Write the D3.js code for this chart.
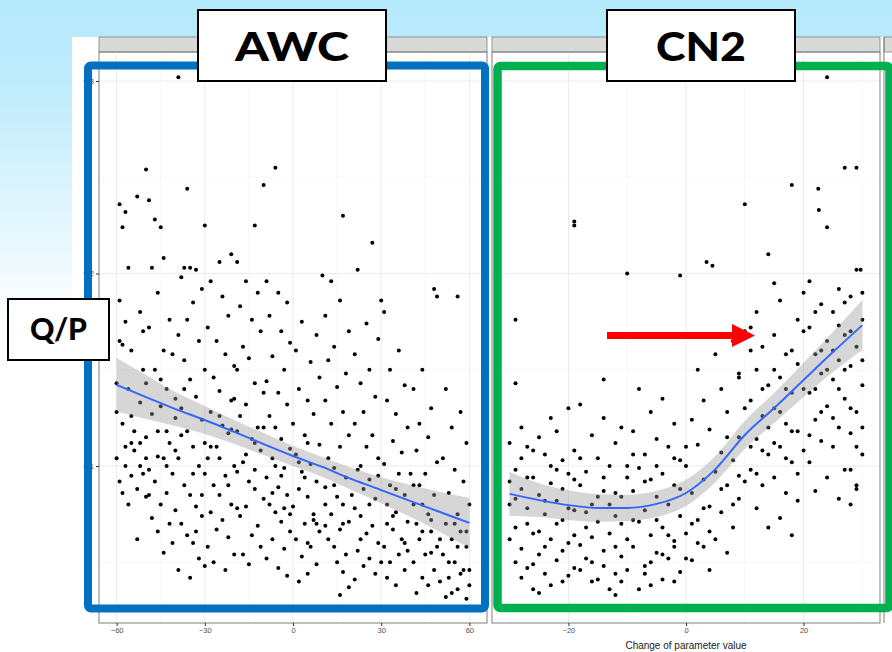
<!DOCTYPE html>
<html>
<head>
<meta charset="utf-8">
<script src="https://cdn.jsdelivr.net/npm/d3@7"></script>
<style>
  html, body { margin: 0; padding: 0; background: #fff; }
  svg { display: block; }
</style>
</head>
<body>
<svg id="chart" width="892" height="652"></svg>
<script>
// ---- Data -------------------------------------------------------------
const facetNames = ["AWC", "CN2"];
const xTicksAWC = [-60, -30, 0, 30, 60];
const xTicksCN2 = [-20, 0, 20];
const yTicks = [0.1, 0.2, 0.3];
const yTickLabels = ["0.1", "0.2", "0.3"];
const axisTitle = "Change of parameter value";
const sideLabel = "Q/P";

// Sensitivity runs: [change of AWC (%), Q/P]
const awcPts = [
  [-59,0.236],[-58,0.224],[-57,0.232],[-53,0.240],[-59,0.186],[-59,0.165],[-58,0.163],[-56,0.203],
  [-57,0.175],[-52,0.180],[-55,0.160],[-51,0.150],[-56,0.140],[-60,0.128],[-58,0.122],[-54,0.118],
  [-52,0.112],[-60,0.104],[-57,0.100],[-55,0.095],[-59,0.092],[-53,0.088],[-50,0.084],[-56,0.080],
  [-51,0.096],[-54,0.108],[-50,0.115],[-52,0.133],[-50,0.143],[-53,0.062],[-51,0.170],[-55,0.112],
  [-58,0.086],[-50,0.104],[-60,0.143],
  [-50,0.254],[-49,0.238],[-47,0.228],[-45,0.224],[-44,0.208],[-48,0.203],[-46,0.190],[-42,0.176],
  [-49,0.172],[-44,0.160],[-47,0.150],[-41,0.158],[-43,0.140],[-45,0.131],[-48,0.127],[-40,0.125],
  [-46,0.118],[-42,0.112],[-44,0.104],[-49,0.098],[-41,0.096],[-47,0.092],[-43,0.086],[-45,0.080],
  [-40,0.077],[-48,0.073],[-42,0.070],[-46,0.066],[-41,0.060],[-44,0.055],[-39,0.046],[-43,0.100],
  [-40,0.108],
  [-39,0.302],[-36,0.244],[-37,0.203],[-35,0.203],[-33,0.202],[-38,0.198],[-31,0.192],[-34,0.185],
  [-36,0.176],[-39,0.168],[-32,0.165],[-37,0.155],[-30,0.150],[-35,0.145],[-33,0.136],[-38,0.130],
  [-31,0.124],[-36,0.118],[-34,0.110],[-39,0.104],[-32,0.100],[-30,0.096],[-37,0.090],[-35,0.085],
  [-33,0.079],[-31,0.074],[-38,0.070],[-36,0.064],[-34,0.060],[-32,0.052],[-30,0.048],[-35,0.042],
  [-33,0.066],[-30,0.112],[-38,0.116],
  [-30,0.225],[-25,0.206],[-21,0.210],[-28,0.196],[-24,0.188],[-22,0.178],[-29,0.172],[-26,0.165],
  [-23,0.158],[-20,0.152],[-27,0.146],[-25,0.139],[-21,0.134],[-28,0.128],[-24,0.121],[-22,0.117],
  [-26,0.110],[-29,0.104],[-20,0.100],[-23,0.095],[-27,0.090],[-25,0.085],[-21,0.080],[-28,0.076],
  [-24,0.072],[-26,0.067],[-22,0.063],[-29,0.058],[-20,0.054],[-27,0.050],[-23,0.046],[-25,0.104],
  [-21,0.119],
  [-19,0.206],[-13,0.225],[-10,0.246],[-16,0.196],[-12,0.190],[-18,0.183],[-14,0.176],[-11,0.170],
  [-17,0.162],[-15,0.156],[-19,0.150],[-13,0.143],[-10,0.138],[-16,0.132],[-18,0.126],[-12,0.120],
  [-14,0.114],[-11,0.108],[-17,0.102],[-19,0.097],[-15,0.092],[-13,0.088],[-10,0.083],[-16,0.079],
  [-18,0.074],[-12,0.069],[-14,0.064],[-11,0.058],[-17,0.054],[-15,0.049],[-13,0.112],[-19,0.118],
  [-6,0.255],[-9,0.196],[-5,0.190],[-2,0.185],[-8,0.178],[-4,0.170],[-1,0.164],[-7,0.157],
  [-3,0.150],[-9,0.144],[-5,0.138],[-2,0.132],[-8,0.126],[-6,0.120],[-4,0.114],[-1,0.109],
  [-7,0.104],[-3,0.099],[-9,0.094],[-5,0.089],[-2,0.085],[-8,0.080],[-6,0.076],[-4,0.071],
  [-1,0.066],[-7,0.062],[-3,0.057],[-9,0.052],[-5,0.047],[-2,0.043],[-6,0.100],[-3,0.078],
  [3,0.175],[8,0.168],[1,0.160],[6,0.154],[9,0.146],[2,0.140],[5,0.134],[7,0.127],
  [0,0.122],[4,0.116],[9,0.111],[1,0.106],[6,0.101],[3,0.097],[8,0.092],[2,0.088],
  [5,0.084],[0,0.079],[7,0.075],[4,0.070],[9,0.066],[1,0.062],[6,0.058],[3,0.053],
  [8,0.049],[5,0.044],[2,0.040],[7,0.072],[4,0.094],[10,0.199],
  [17,0.230],[13,0.196],[16,0.186],[11,0.178],[19,0.170],[14,0.162],[12,0.155],[18,0.148],
  [15,0.141],[11,0.134],[17,0.128],[13,0.122],[19,0.116],[16,0.110],[12,0.104],[14,0.099],
  [18,0.094],[11,0.089],[15,0.084],[17,0.080],[13,0.075],[19,0.071],[16,0.067],[12,0.062],
  [14,0.058],[18,0.054],[15,0.050],[17,0.045],[19,0.037],[16,0.033],[11,0.069],
  [22,0.202],[27,0.216],[25,0.174],[29,0.166],[21,0.158],[26,0.150],[23,0.143],[28,0.136],
  [24,0.128],[21,0.122],[27,0.116],[25,0.110],[29,0.104],[22,0.098],[26,0.093],[24,0.088],
  [28,0.083],[21,0.078],[23,0.074],[27,0.069],[25,0.065],[29,0.060],[22,0.056],[26,0.052],
  [24,0.048],[28,0.044],[21,0.041],[23,0.062],[30,0.186],
  [31,0.180],[36,0.160],[33,0.150],[38,0.142],[32,0.134],[35,0.127],[39,0.120],[34,0.113],
  [37,0.107],[31,0.101],[36,0.096],[33,0.090],[38,0.085],[32,0.080],[35,0.076],[39,0.071],
  [34,0.067],[37,0.062],[31,0.058],[36,0.054],[33,0.050],[38,0.046],[32,0.042],[35,0.038],
  [39,0.056],[34,0.074],[40,0.096],
  [48,0.192],[49,0.188],[44,0.150],[41,0.140],[47,0.130],[43,0.122],[46,0.115],[42,0.108],
  [49,0.102],[45,0.096],[41,0.090],[48,0.085],[44,0.080],[46,0.075],[42,0.070],[47,0.066],
  [43,0.062],[49,0.058],[45,0.054],[41,0.050],[48,0.046],[44,0.042],[46,0.038],[42,0.034],
  [47,0.072],[43,0.090],
  [56,0.188],[52,0.140],[57,0.128],[54,0.120],[59,0.112],[51,0.104],[55,0.098],[58,0.092],
  [53,0.086],[60,0.080],[56,0.075],[52,0.070],[57,0.066],[54,0.062],[59,0.058],[51,0.054],
  [55,0.050],[58,0.046],[53,0.042],[60,0.038],[56,0.036],[52,0.032],[57,0.044],[59,0.031],
  [54,0.034],[60,0.046],[55,0.070],
  [-57,0.110],[-55,0.126],[-52,0.100],[-49,0.085],[-46,0.105],[-43,0.118],[-40,0.135],[-37,0.140],
  [-34,0.096],[-31,0.085],[-28,0.110],[-25,0.126],[-22,0.090],[-19,0.078],[-16,0.106],[-13,0.098],
  [-10,0.120],[-7,0.086],[-4,0.095],[-1,0.075],[2,0.102],[5,0.112],[8,0.070],[11,0.080],
  [14,0.090],[17,0.070],[20,0.085],[23,0.100],[26,0.080],[29,0.095],[32,0.070],[35,0.088],
  [38,0.060],[41,0.080],[44,0.066],[47,0.055],[50,0.062],[53,0.050],[56,0.058],[59,0.066],
  [-45,0.145],[-20,0.135],[5,0.060],[30,0.050],[50,0.040]
];

// Sensitivity runs: [change of CN2, Q/P]
const cn2Pts = [
  [-29,0.176],[-29,0.143],[-19,0.227],[-19,0.225],[-28,0.120],[-25,0.115],[-22,0.118],[-27,0.110],
  [-24,0.106],[-21,0.103],[-29,0.098],[-26,0.094],[-23,0.091],[-20,0.096],[-28,0.088],[-25,0.085],
  [-22,0.082],[-27,0.078],[-24,0.075],[-21,0.072],[-29,0.068],[-26,0.065],[-23,0.062],[-20,0.060],
  [-28,0.057],[-25,0.054],[-22,0.051],[-27,0.047],[-24,0.044],[-21,0.040],[-26,0.036],[-20,0.130],
  [-23,0.125],[-30,0.080],[-30,0.062],[-29,0.050],
  [-18,0.132],[-14,0.125],[-11,0.120],[-16,0.116],[-12,0.112],[-19,0.108],[-15,0.104],[-13,0.100],
  [-17,0.097],[-10,0.094],[-18,0.090],[-14,0.087],[-11,0.084],[-16,0.080],[-19,0.077],[-12,0.074],
  [-15,0.071],[-17,0.068],[-13,0.065],[-10,0.062],[-18,0.059],[-14,0.056],[-11,0.053],[-16,0.050],
  [-19,0.047],[-12,0.044],[-15,0.041],[-13,0.036],[-17,0.052],[-10,0.100],[-10,0.200],[-12,0.033],
  [-14,0.145],
  [-1,0.199],[-8,0.140],[-4,0.135],[-6,0.128],[-2,0.122],[-9,0.118],[-5,0.114],[-3,0.110],
  [-7,0.106],[-1,0.103],[-8,0.099],[-4,0.096],[-6,0.093],[-2,0.090],[-9,0.087],[-5,0.084],
  [-3,0.080],[-7,0.077],[-1,0.074],[-8,0.071],[-4,0.068],[-6,0.064],[-2,0.061],[-9,0.058],
  [-5,0.055],[-3,0.052],[-7,0.048],[-1,0.045],[-4,0.041],[-6,0.038],[-2,0.058],[0,0.110],
  [3.5,0.206],[4.5,0.204],[10,0.236],[8,0.165],[5,0.158],[2,0.150],[9,0.146],[6,0.140],
  [3,0.134],[7,0.128],[1,0.124],[4,0.119],[9,0.115],[2,0.111],[6,0.107],[8,0.103],
  [0,0.100],[5,0.097],[3,0.093],[7,0.090],[1,0.086],[9,0.083],[4,0.079],[6,0.076],
  [2,0.072],[8,0.068],[0,0.065],[5,0.062],[3,0.058],[7,0.055],[1,0.051],[9,0.148],
  [10,0.170],[4,0.046],
  [14,0.210],[18,0.246],[12,0.180],[16,0.186],[19,0.176],[11,0.172],[15,0.168],[13,0.162],
  [17,0.158],[19,0.153],[12,0.150],[16,0.146],[14,0.142],[18,0.138],[11,0.134],[15,0.130],
  [13,0.126],[17,0.122],[19,0.118],[12,0.114],[16,0.110],[14,0.106],[18,0.102],[11,0.098],
  [15,0.094],[13,0.090],[17,0.086],[19,0.082],[12,0.078],[16,0.073],[14,0.068],[18,0.064],
  [11,0.160],[20,0.190],[15,0.195],[17,0.140],
  [24,0.302],[27,0.255],[29,0.255],[22.5,0.244],[22.6,0.233],[24,0.224],[29,0.202],[29.7,0.202],
  [21,0.196],[26,0.192],[28,0.188],[23,0.184],[25,0.180],[30,0.176],[21,0.172],[27,0.168],
  [24,0.165],[29,0.162],[22,0.158],[26,0.155],[28,0.152],[23,0.148],[25,0.145],[30,0.142],
  [21,0.138],[27,0.135],[24,0.131],[29,0.128],[22,0.124],[26,0.120],[28,0.117],[23,0.113],
  [25,0.110],[30,0.106],[21,0.102],[27,0.098],[24,0.094],[29,0.090],[22,0.087],[26,0.083],
  [28,0.080],[25,0.125],[29,0.110],[28,0.098],[26,0.173],[30,0.155],[20,0.140],[23,0.160],
  [29,0.088],[27,0.185],
  [-28,0.104],[-26,0.108],[-23,0.100],[-21,0.088],[-29,0.083],[-27,0.070],[-25,0.066],[-22,0.070],
  [-20,0.078],[-24,0.058],[-26,0.049],[-28,0.042],[-23,0.038],[-21,0.056],[-19,0.064],[-17,0.076],
  [-15,0.084],[-13,0.080],[-11,0.070],[-18,0.046],[-16,0.040],[-14,0.048],[-12,0.058],[-10,0.046],
  [-9,0.072],[-7,0.092],[-5,0.100],[-3,0.064],[-1,0.088],[-8,0.036],[-6,0.050],[-4,0.054],
  [-2,0.040],[0,0.052],[1,0.070],[2,0.060],[3,0.078],[4,0.066],[-30,0.092],[-30,0.112],
  [-27,0.094],[-19,0.093],[-16,0.063],[-12,0.086],[-9,0.106],[-5,0.072],[-2,0.104],[-14,0.094],
  [-24,0.082],[-22,0.098],[-18,0.104],[-11,0.040],[-7,0.044],[-25,0.034],[-20,0.043],
  [6,0.088],[8,0.080],[10,0.092],[11,0.110],[12,0.096],[13,0.108],[14,0.120],[16,0.128],
  [18,0.118],[20,0.108],[21,0.116],[22,0.140],[23,0.128],[24,0.150],[25,0.160],[26,0.140],
  [27,0.150],[28,0.170],[30,0.120],[19,0.096],[17,0.104],[15,0.112],[20,0.170],[22,0.180],
  [18,0.160],[10,0.130],[7,0.115],[9,0.095],[28,0.130],[30,0.190],[15,0.150],[13,0.140]
];

// Smoothed trend (loess) with 95% band: x, fit, lower, upper
const awcSmoothX  = [-60, -50, -40, -30, -20, -10, 0, 10, 20, 30, 40, 50, 60];
const awcSmoothY  = [0.1421, 0.1358, 0.1296, 0.1239, 0.1177, 0.1114, 0.1052, 0.0995, 0.0932, 0.0875, 0.0818, 0.0761, 0.0704];
const awcSmoothLo = [0.1283, 0.1244, 0.1208, 0.1166, 0.1114, 0.1057, 0.1000, 0.0943, 0.0875, 0.0807, 0.0735, 0.0657, 0.0574];
const awcSmoothHi = [0.1561, 0.1473, 0.1384, 0.1312, 0.1239, 0.1171, 0.1104, 0.1047, 0.0990, 0.0942, 0.0901, 0.0865, 0.0834];

const cn2SmoothX  = [-30, -25, -20, -15, -10, -5, 0, 5, 10, 15, 20, 25, 30];
const cn2SmoothY  = [0.0855, 0.0823, 0.0797, 0.0782, 0.0782, 0.0803, 0.0860, 0.0984, 0.1161, 0.1301, 0.1447, 0.1592, 0.1732];
const cn2SmoothLo = [0.0741, 0.0735, 0.0720, 0.0710, 0.0714, 0.0735, 0.0792, 0.0916, 0.1088, 0.1223, 0.1358, 0.1488, 0.1602];
const cn2SmoothHi = [0.0969, 0.0911, 0.0874, 0.0854, 0.0850, 0.0871, 0.0928, 0.1052, 0.1234, 0.1379, 0.1536, 0.1696, 0.1862];

// ---- Layout -------------------------------------------------------------
const W = 892, H = 652;
const svg = d3.select("#chart");
const defs = svg.append("defs");

const bg = defs.append("linearGradient").attr("id", "slideBg")
  .attr("x1", 0).attr("y1", 0).attr("x2", 0).attr("y2", 1);
bg.append("stop").attr("offset", 0).attr("stop-color", "#b5e9fc");
bg.append("stop").attr("offset", 0.12).attr("stop-color", "#bdebfc");
bg.append("stop").attr("offset", 0.5).attr("stop-color", "#ffffff");
svg.append("rect").attr("width", W).attr("height", H).attr("fill", "url(#slideBg)");

// white plot canvas
const canvasX = 72, canvasY = 37;
svg.append("rect").attr("x", canvasX).attr("y", canvasY)
  .attr("width", W - canvasX).attr("height", H - canvasY).attr("fill", "#fff");

const stripTop = 37, panelTop = 52, panelBottom = 623;
const panels = [
  { name: facetNames[0], x0: 99,  x1: 487, dom: [-66, 66], ticks: xTicksAWC, minor: [-45, -15, 15, 45],
    pts: awcPts, sx: awcSmoothX, sy: awcSmoothY, lo: awcSmoothLo, hi: awcSmoothHi },
  { name: facetNames[1], x0: 492, x1: 880, dom: [-33, 33], ticks: xTicksCN2, minor: [-30, -10, 10, 30],
    pts: cn2Pts, sx: cn2SmoothX, sy: cn2SmoothY, lo: cn2SmoothLo, hi: cn2SmoothHi }
];

const y = d3.scaleLinear()
  .domain([0.1 - (panelBottom - 466) / 1925, 0.3 + (81 - panelTop) / 1925])
  .range([panelBottom, panelTop]);
const yMinor = [0.05, 0.15, 0.25];

panels.forEach((p, i) => {
  const x = d3.scaleLinear().domain(p.dom).range([p.x0, p.x1]);
  const g = svg.append("g");

  // strip
  g.append("rect").attr("x", p.x0).attr("y", stripTop)
    .attr("width", p.x1 - p.x0).attr("height", panelTop - stripTop)
    .attr("fill", "#d9d9d9").attr("stroke", "#7f7f7f").attr("stroke-width", 0.8);

  // grid
  g.selectAll(".ymin").data(yMinor).join("line")
    .attr("x1", p.x0).attr("x2", p.x1).attr("y1", d => y(d)).attr("y2", d => y(d))
    .attr("stroke", "#f4f4f4").attr("stroke-width", 0.6);
  g.selectAll(".xmin").data(p.minor).join("line")
    .attr("y1", panelTop).attr("y2", panelBottom).attr("x1", d => x(d)).attr("x2", d => x(d))
    .attr("stroke", "#f4f4f4").attr("stroke-width", 0.6);
  g.selectAll(".ymaj").data(yTicks).join("line")
    .attr("x1", p.x0).attr("x2", p.x1).attr("y1", d => y(d)).attr("y2", d => y(d))
    .attr("stroke", "#ebebeb").attr("stroke-width", 1);
  g.selectAll(".xmaj").data(p.ticks).join("line")
    .attr("y1", panelTop).attr("y2", panelBottom).attr("x1", d => x(d)).attr("x2", d => x(d))
    .attr("stroke", "#ebebeb").attr("stroke-width", 1);

  // points
  g.selectAll(".pt").data(p.pts).join("circle")
    .attr("cx", d => x(d[0])).attr("cy", d => y(d[1])).attr("r", 2).attr("fill", "#000");

  // confidence band and smooth line
  const idx = d3.range(p.sx.length);
  g.append("path").datum(idx)
    .attr("d", d3.area().curve(d3.curveMonotoneX)
      .x(j => x(p.sx[j])).y0(j => y(p.lo[j])).y1(j => y(p.hi[j])))
    .attr("fill", "#999999").attr("fill-opacity", 0.4);
  g.append("path").datum(idx)
    .attr("d", d3.line().curve(d3.curveMonotoneX).x(j => x(p.sx[j])).y(j => y(p.sy[j])))
    .attr("fill", "none").attr("stroke", "#3366ff").attr("stroke-width", 1.9);

  // panel border
  g.append("rect").attr("x", p.x0).attr("y", panelTop)
    .attr("width", p.x1 - p.x0).attr("height", panelBottom - panelTop)
    .attr("fill", "none").attr("stroke", "#7f7f7f").attr("stroke-width", 1);

  // x axis
  const ax = svg.append("g").attr("transform", `translate(0,${panelBottom})`)
    .call(d3.axisBottom(x).tickValues(p.ticks).tickSize(3).tickPadding(2).tickFormat(d3.format("d")));
  ax.select(".domain").remove();
  ax.selectAll("line").attr("stroke", "#333");
  ax.selectAll("text").attr("fill", "#4d4d4d").style("font-family", "Liberation Sans, Arial, sans-serif")
    .style("font-size", "7.5px");
});

// third facet just visible at the right edge
svg.append("rect").attr("x", 884).attr("y", stripTop).attr("width", 12).attr("height", panelTop - stripTop)
  .attr("fill", "#d9d9d9").attr("stroke", "#7f7f7f").attr("stroke-width", 0.8);
svg.append("line").attr("x1", 884).attr("x2", 884).attr("y1", stripTop).attr("y2", panelBottom)
  .attr("stroke", "#7f7f7f").attr("stroke-width", 1);

// y axis on the first panel
const ay = svg.append("g").attr("transform", `translate(${panels[0].x0},0)`)
  .call(d3.axisLeft(y).tickValues(yTicks).tickSize(3).tickPadding(2)
    .tickFormat((d, i) => yTickLabels[i]));
ay.select(".domain").remove();
ay.selectAll("line").attr("stroke", "#333");
ay.selectAll("text").attr("fill", "#4d4d4d").style("font-family", "Liberation Sans, Arial, sans-serif")
  .style("font-size", "7.5px");

// axis title
svg.append("text").attr("x", (panels[1].x0 + panels[1].x1) / 2).attr("y", 649)
  .attr("text-anchor", "middle").attr("fill", "#1a1a1a")
  .style("font-family", "Liberation Sans, Arial, sans-serif").style("font-size", "10px")
  .text(axisTitle);

// ---- Slide annotations ---------------------------------------------------
// coloured frames around each facet
svg.append("rect").attr("x", 88).attr("y", 65.5).attr("width", 397).attr("height", 543)
  .attr("rx", 3).attr("fill", "none").attr("stroke", "#0070c0").attr("stroke-width", 8);
svg.append("rect").attr("x", 497.5).attr("y", 66).attr("width", 392).attr("height", 542)
  .attr("rx", 3).attr("fill", "none").attr("stroke", "#00b050").attr("stroke-width", 8.5);

// label boxes
function labelBox(x0, y0, w, h, text, size, textW, baseline) {
  svg.append("rect").attr("x", x0).attr("y", y0).attr("width", w).attr("height", h)
    .attr("fill", "#fff").attr("stroke", "#000").attr("stroke-width", 2);
  svg.append("text").attr("x", x0 + w / 2).attr("y", baseline)
    .attr("text-anchor", "middle").attr("fill", "#000")
    .attr("textLength", textW).attr("lengthAdjust", "spacingAndGlyphs")
    .style("font-family", "Lato, 'Open Sans', sans-serif").style("font-weight", 900)
    .style("font-size", size + "px").text(text);
}
labelBox(198, 10, 188, 71, facetNames[0], 40, 114, 61);
labelBox(607, 10, 188, 71, facetNames[1], 40, 90, 61);
labelBox(8, 299, 101, 61, sideLabel, 30, 57, 340);

// red arrow pointing at the rising CN2 response
const arrow = d3.path();
arrow.moveTo(607, 332); arrow.lineTo(732, 332); arrow.lineTo(732, 324);
arrow.lineTo(755, 335.5); arrow.lineTo(732, 347); arrow.lineTo(732, 339);
arrow.lineTo(607, 339); arrow.closePath();
svg.append("path").attr("d", arrow.toString()).attr("fill", "#ff0000");
</script>
</body>
</html>
